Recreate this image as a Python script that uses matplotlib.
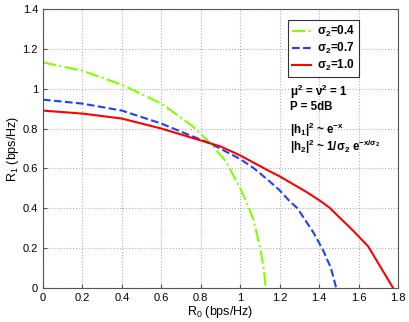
import matplotlib
matplotlib.use("Agg")
import matplotlib.pyplot as plt

plt.rcParams['font.family'] = ['Liberation Sans', 'DejaVu Sans']
plt.rcParams['mathtext.fontset'] = 'custom'
plt.rcParams['mathtext.rm'] = 'Liberation Sans'
plt.rcParams['mathtext.it'] = 'Liberation Sans'
plt.rcParams['mathtext.bf'] = 'Liberation Sans:bold'

# data
g_r0 = [0, 0.2, 0.4, 0.6, 0.645, 0.76, 0.848, 0.93, 1.0, 1.042, 1.068, 1.10, 1.118, 1.13]
g_r1 = [1.132, 1.09, 1.02, 0.925, 0.894, 0.81, 0.727, 0.632, 0.50, 0.408, 0.34, 0.207, 0.107, 0]
b_r0 = [0, 0.2, 0.4, 0.6, 0.75, 0.85, 0.93, 1.0, 1.07, 1.15, 1.2, 1.25, 1.29, 1.33, 1.37, 1.42, 1.46, 1.487]
b_r1 = [0.945, 0.925, 0.89, 0.825, 0.764, 0.725, 0.683, 0.647, 0.60, 0.534, 0.49, 0.436, 0.40, 0.34, 0.28, 0.19, 0.1, 0]
r_r0 = [0, 0.2, 0.4, 0.6, 0.8, 0.9, 1.0, 1.15, 1.2, 1.34, 1.41, 1.45, 1.57, 1.65, 1.775]
r_r1 = [0.89, 0.875, 0.85, 0.80, 0.74, 0.71, 0.665, 0.585, 0.56, 0.479, 0.434, 0.405, 0.29, 0.207, 0]
labels = [r'$\mathbf{\sigma_2}$=0.4', r'$\mathbf{\sigma_2}$=0.7', r'$\mathbf{\sigma_2}$=1.0']
xticks = [0, 0.2, 0.4, 0.6, 0.8, 1, 1.2, 1.4, 1.6, 1.8]
yticks = [0, 0.2, 0.4, 0.6, 0.8, 1, 1.2, 1.4]

fig = plt.figure(figsize=(4.09, 3.22), dpi=100)
ax = fig.add_axes([0.105, 0.106, 0.868, 0.866])

ax.plot(g_r0, g_r1, color='#80ff00', linestyle='-.', lw=1.5, label=labels[0])
ax.plot(b_r0, b_r1, color='#2040ff', linestyle='--', lw=1.5, label=labels[1])
ax.plot(r_r0, r_r1, color='#ff0000', linestyle='-', lw=1.5, label=labels[2])

ax.set_xlim(0, 1.8)
ax.set_ylim(0, 1.4)
ax.set_xticks(xticks)
ax.set_yticks(yticks)
ax.set_xticklabels([f'{t:g}' for t in xticks])
ax.set_yticklabels([f'{t:g}' for t in yticks])
ax.tick_params(direction='in', length=3, labelsize=8, color='#555555')
for s in ax.spines.values():
    s.set_color('#555555')
    s.set_linewidth(0.8)
ax.grid(True, linestyle=':', color='#b0b0b0', linewidth=0.8)

ax.set_xlabel(r'R$_0$ (bps/Hz)', fontsize=9, labelpad=1)
ax.set_ylabel(r'R$_1$ (bps/Hz)', fontsize=9, labelpad=1)

leg = ax.legend(loc='upper left', bbox_to_anchor=(0.69, 0.96),
                prop={'weight': 'bold', 'size': 8.5}, fancybox=False, frameon=True,
                handlelength=1.6, handletextpad=0.5, borderpad=0.35, labelspacing=0.15,
                borderaxespad=0)
leg.get_frame().set_edgecolor('black')
leg.get_frame().set_linewidth(0.8)

kw = dict(transform=ax.transData, fontsize=8.3, fontweight='bold', va='center', ha='left')
ax.text(1.255, 0.985, r'$\mathbf{\mu^2}$ = $\mathbf{\nu^2}$ = 1', **kw)
ax.text(1.255, 0.91, 'P = 5dB', **kw)
ax.text(1.255, 0.795, r'|h$\mathbf{_1}$|$\mathbf{^2}$ ~ e$\mathbf{^{-x}}$', **kw)
ax.text(1.255, 0.71, r'|h$\mathbf{_2}$|$\mathbf{^2}$ ~ 1/$\mathbf{\sigma_2}$ e$\mathbf{^{-x/\sigma_2}}$', **kw)

fig.savefig('out.png', dpi=100)
